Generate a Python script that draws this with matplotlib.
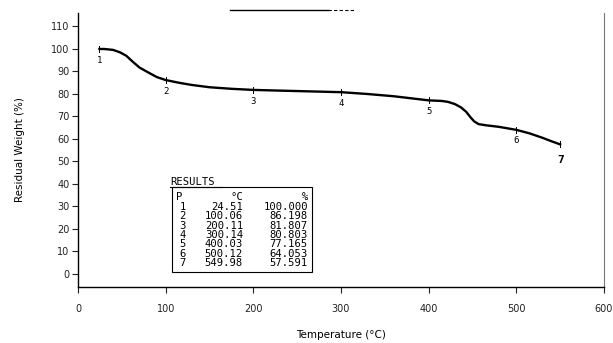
import matplotlib
matplotlib.use("Agg")
import matplotlib.pyplot as plt
from matplotlib.lines import Line2D
import numpy as np

# Curve
temp = [24.5, 30, 40, 48, 55, 62, 70, 80, 90, 100.06, 115, 130, 150, 175, 200.11, 230, 260,
        300.14, 330, 360, 400.03, 415, 422, 430, 437, 443, 448, 452, 457, 465, 480, 500.12,
        515, 530, 540, 549.98]
weight = [100.0, 100.0, 99.6, 98.5, 97.0, 94.5, 91.8, 89.6, 87.5, 86.198, 85.0, 84.0, 83.0,
          82.3, 81.807, 81.5, 81.2, 80.803, 80.0, 79.0, 77.165, 76.9, 76.5, 75.5, 74.0,
          72.0, 69.5, 67.8, 66.6, 66.1, 65.4, 64.053, 62.5, 60.5, 59.0, 57.591]

# Result points
pts = ["1", "2", "3", "4", "5", "6", "7"]
pt_temp = [24.51, 100.06, 200.11, 300.14, 400.03, 500.12, 549.98]
pt_weight = [100.000, 86.198, 81.807, 80.803, 77.165, 64.053, 57.591]
pt_temp_txt = ["24.51", "100.06", "200.11", "300.14", "400.03", "500.12", "549.98"]
pt_weight_txt = ["100.000", "86.198", "81.807", "80.803", "77.165", "64.053", "57.591"]

xticks = [0, 100, 200, 300, 400, 500, 600]
yticks = list(range(0, 111, 10))

MONO = "DejaVu Sans Mono"

fig = plt.figure(figsize=(6.13, 3.43), dpi=100)
ax = fig.add_axes([78/613, 1-287/343, (604-78)/613, (287-13)/343])
ax.plot(temp, weight, color="black", lw=1.7)
ax.set_xlim(0, 600)
ax.set_ylim(-5.8, 116)
ax.set_xticks(xticks)
ax.set_yticks(yticks)
ax.tick_params(direction="out", length=4, width=0.8, labelsize=7, colors="#222222", pad=2)
ax.tick_params(axis="x", pad=8)
ax.spines["top"].set_visible(False)
ax.spines["right"].set_color("#777777")
ax.spines["right"].set_linewidth(0.8)
ax.spines["left"].set_linewidth(1.0)
ax.spines["bottom"].set_linewidth(1.0)
ax.set_xlabel("Temperature (°C)", fontsize=7.5, labelpad=12)
ax.set_ylabel("Residual Weight (%)", fontsize=7.5, labelpad=19)

for i, (t, w, lab) in enumerate(zip(pt_temp, pt_weight, pts)):
    ax.plot([t, t], [w - 1.3, w + 1.3], color="black", lw=0.7)
    big = (i == len(pts) - 1)
    ax.annotate(lab, (t, w), xytext=(0, -8 if not big else -11), textcoords="offset points",
                ha="center", va="center", fontsize=8 if big else 6.5,
                fontweight="bold" if big else "normal", family=MONO)

# Results table
fs = 7.6
fig.text(170/613, 1-182/343, "RESULTS", fontsize=fs, family=MONO, ha="left", va="center")
fig.add_artist(Line2D([170/613, 222/613], [1-187/343, 1-187/343], color="black", lw=0.8))
box = plt.Rectangle((172/613, 1-272/343), (312-172)/613, (272-187)/343,
                    transform=fig.transFigure, fill=False, lw=0.8, ec="black")
fig.add_artist(box)
rows_y = [1-197/343] + [1-(207 + k*9.33)/343 for k in range(7)]
fig.text(176/613, rows_y[0], "P", fontsize=fs, family=MONO, va="center")
fig.text(243/613, rows_y[0], "°C", fontsize=fs, family=MONO, va="center", ha="right")
fig.text(308/613, rows_y[0], "%", fontsize=fs, family=MONO, va="center", ha="right")
for k in range(len(pts)):
    y = rows_y[k + 1]
    fig.text(186/613, y, pts[k], fontsize=fs, family=MONO, va="center", ha="right")
    fig.text(243/613, y, pt_temp_txt[k], fontsize=fs, family=MONO, va="center", ha="right")
    fig.text(308/613, y, pt_weight_txt[k], fontsize=fs, family=MONO, va="center", ha="right")

# top artifact line
fig.add_artist(Line2D([230/613, 328/613], [1-10/343, 1-10/343], color="black", lw=1.0))
fig.add_artist(Line2D([328/613, 355/613], [1-10/343, 1-10/343], color="black", lw=0.8,
                      linestyle=(0, (3, 2))))

fig.savefig("out.png", dpi=100)
